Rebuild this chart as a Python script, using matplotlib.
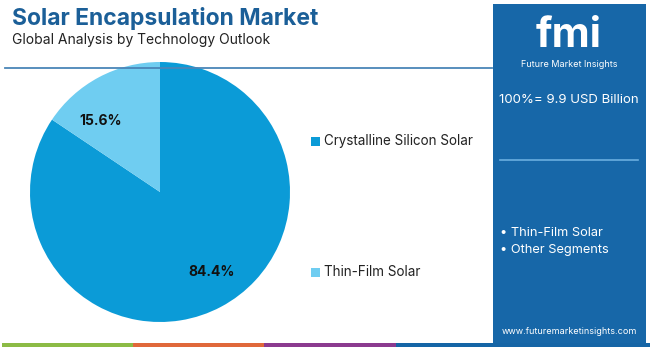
import matplotlib.pyplot as plt
from matplotlib.patches import Rectangle

plt.rcParams['font.family'] = ['Inter', 'DejaVu Sans']

segments = ["Crystalline Silicon Solar", "Thin-Film Solar"]
shares = [84.4, 15.6]
colors = ["#0b9bd7", "#6fcdf1"]
side_items = ["Thin-Film Solar", "Other Segments"]
total_label = "100%= 9.9 USD Billion"

W, H = 650, 347
fig = plt.figure(figsize=(W / 100, H / 100), dpi=100)

# pie
r = 130
cx, cy = 160, 192
ax = fig.add_axes([(cx - r) / W, (H - cy - r) / H, 2 * r / W, 2 * r / H])
ax.pie(shares, colors=colors, startangle=90, counterclock=False,
       wedgeprops=dict(linewidth=0))
ax.set_aspect("auto")
ax.set_xlim(-1, 1)
ax.set_ylim(-1, 1)
ax.set_zorder(0)

# decoration axes in pixel coordinates, on top
bg = fig.add_axes([0, 0, 1, 1])
bg.set_xlim(0, W)
bg.set_ylim(H, 0)
bg.axis("off")
bg.set_zorder(1)

bg.text(12, 18, "Solar Encapsulation Market", fontsize=16.5, fontweight="bold",
        color="#1b5f98", va="center")
bg.text(12, 40, "Global Analysis by Technology Outlook", fontsize=10,
        color="#222222", va="center")
bg.plot([5, 492], [68, 68], color="#4a86b8", lw=1.3)

# bottom colour strip
for x0, x1, c in [(2, 133, "#8cbb45"), (133, 264, "#e0683a"),
                  (264, 396, "#8b3a8f"), (396, 650, "#1565a6")]:
    bg.add_patch(Rectangle((x0, 343), x1 - x0, 4, color=c, lw=0))

# right panel
bg.add_patch(Rectangle((493, 4), 153, 339, color="#1767a8", lw=0))
bg.text(569, 47, "fmi", fontsize=30, fontweight="bold", color="white",
        ha="center", va="baseline")
bg.text(569, 64, "Future Market Insights", fontsize=6.5, color="white",
        ha="center", va="center")
bg.text(569, 100, total_label, fontsize=9.5, color="white", ha="center", va="center")
bg.plot([500, 638], [160, 160], color="#6aaee0", lw=1.2)
for i, s in enumerate(side_items):
    bg.text(500, 233 + i * 17, "\u2022 " + s, fontsize=9.2, color="white", va="center")
bg.text(569, 332, "www.futuremarketinsights.com", fontsize=6.5, color="white",
        ha="center", va="center")

# legend
for i, (lab, c) in enumerate(zip(segments, colors)):
    y = [141, 272][i]
    bg.add_patch(Rectangle((311, y - 4.5), 9, 9, color=c, lw=0))
    bg.text(324, y, lab, fontsize=9.7, color="#222222", va="center")

bg.text(212, 272, f"{shares[0]}%", fontsize=10, fontweight="bold",
        color="#111111", ha="center", va="center")
bg.text(101, 121, f"{shares[1]}%", fontsize=10, fontweight="bold",
        color="#111111", ha="center", va="center")

fig.savefig("out.png", dpi=100)
